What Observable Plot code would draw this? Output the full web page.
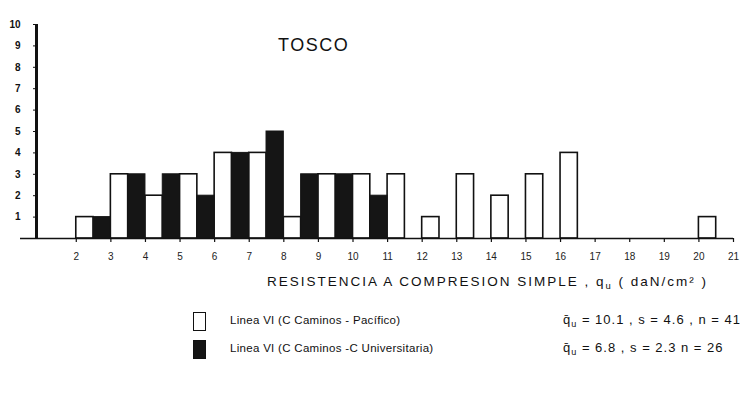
<!DOCTYPE html>
<html>
<head>
<meta charset="utf-8">
<script src="https://cdn.jsdelivr.net/npm/d3@7"></script>
<script src="https://cdn.jsdelivr.net/npm/@observablehq/plot@0.6"></script>
<style>
  html, body { margin: 0; padding: 0; background: #fff; }
  #wrap { position: relative; width: 745px; height: 403px; overflow: hidden; font-family: "Liberation Sans", "DejaVu Sans", sans-serif; color: #111; }
  #chart { position: absolute; left: 0; top: 0; }
  .abs { position: absolute; white-space: nowrap; }
  #title { left: 278px; top: 35px; font-size: 18px; letter-spacing: 1.5px; }
  #xlabel { left: 267px; top: 274px; font-size: 13.5px; letter-spacing: 2px; }
  .sw { position: absolute; width: 11px; height: 17px; border: 1.5px solid #111; }
  .leg { font-size: 11.5px; letter-spacing: 0.3px; }
  .stat { font-size: 13px; letter-spacing: 1px; }
  sub { font-size: 70%; vertical-align: -3px; }
</style>
</head>
<body>
<div id="wrap">
  <div id="chart"></div>
  <div id="title" class="abs">TOSCO</div>
  <div id="xlabel" class="abs"></div>
  <div id="legend"></div>
</div>
<script>
// Class intervals (lower bound of each 1-unit bin of q_u)
const bins = [2, 3, 4, 5, 6, 7, 8, 9, 10, 11, 12, 13, 14, 15, 16, 17, 18, 19, 20];
// Frequencies, Linea VI (C Caminos - Pacífico) — white bars (first half of each bin)
const pacifico = [1, 3, 2, 3, 4, 4, 1, 3, 3, 3, 1, 3, 2, 3, 4, 0, 0, 0, 1];
// Frequencies, Linea VI (C Caminos - C Universitaria) — black bars (second half of each bin)
const universitaria = [1, 3, 3, 2, 4, 5, 3, 3, 2, 0, 0, 0, 0, 0, 0, 0, 0, 0, 0];
const xTicks = [2, 3, 4, 5, 6, 7, 8, 9, 10, 11, 12, 13, 14, 15, 16, 17, 18, 19, 20, 21];
const yTicks = [1, 2, 3, 4, 5, 6, 7, 8, 9, 10];
const titleText = "TOSCO";
const xLabelText = "RESISTENCIA A COMPRESION SIMPLE , q<sub>u</sub> ( daN/cm² )";
const seriesNames = ["Linea VI (C Caminos - Pacífico)", "Linea VI (C Caminos -C Universitaria)"];
const seriesStats = ["q̄<sub>u</sub> = 10.1 , s = 4.6 , n = 41", "q̄<sub>u</sub> = 6.8 , s = 2.3  n = 26"];

const white = bins.map((b, i) => ({x1: b, x2: b + 0.5, y: pacifico[i]})).filter(d => d.y > 0);
const black = bins.map((b, i) => ({x1: b + 0.5, x2: b + 1, y: universitaria[i]})).filter(d => d.y > 0);

const plot = Plot.plot({
  width: 745,
  height: 270,
  marginLeft: 36,
  marginRight: 12,
  marginTop: 24,
  marginBottom: 32,
  style: {fontFamily: "'Liberation Sans', 'DejaVu Sans', sans-serif", color: "#111", background: "transparent", overflow: "visible"},
  x: {type: "linear", domain: [0.85, 21]},
  y: {type: "linear", domain: [0, 10]},
  marks: [
    Plot.rectY(white, {x1: "x1", x2: "x2", y: "y", fill: "white", stroke: "#111", strokeWidth: 1.6}),
    Plot.rectY(black, {x1: "x1", x2: "x2", y: "y", fill: "#151515", stroke: "#151515", strokeWidth: 1}),
    Plot.ruleY([0], {stroke: "#111", strokeWidth: 1.6, insetLeft: -16}),
    Plot.axisX({ticks: xTicks, tickSize: 4, tickPadding: 10, fontSize: 10, tickFormat: d => String(d), label: null, stroke: "#111", strokeWidth: 1.2, fill: "#222"}),
    Plot.ruleX([0.85], {y1: 0, y2: 10, stroke: "#111", strokeWidth: 3}),
    Plot.axisY({ticks: yTicks, tickSize: 3, tickPadding: 13, fontSize: 10, fontWeight: "bold", tickFormat: d => String(d), label: null, stroke: "#111"})
  ]
});
document.getElementById("chart").appendChild(plot);
document.getElementById("title").textContent = titleText;
document.getElementById("xlabel").innerHTML = xLabelText;

const legend = document.getElementById("legend");
const rowsY = [322, 350];
seriesNames.forEach((name, i) => {
  const sw = document.createElement("div");
  sw.className = "sw";
  sw.style.left = "193px";
  sw.style.top = (rowsY[i] - 10) + "px";
  sw.style.background = i === 0 ? "#fff" : "#151515";
  legend.appendChild(sw);
  const t = document.createElement("div");
  t.className = "abs leg";
  t.style.left = "230px";
  t.style.top = (rowsY[i] - 8) + "px";
  t.textContent = name;
  legend.appendChild(t);
  const s = document.createElement("div");
  s.className = "abs stat";
  s.style.left = "563px";
  s.style.top = (rowsY[i] - 10) + "px";
  s.innerHTML = seriesStats[i];
  legend.appendChild(s);
});
</script>
</body>
</html>
